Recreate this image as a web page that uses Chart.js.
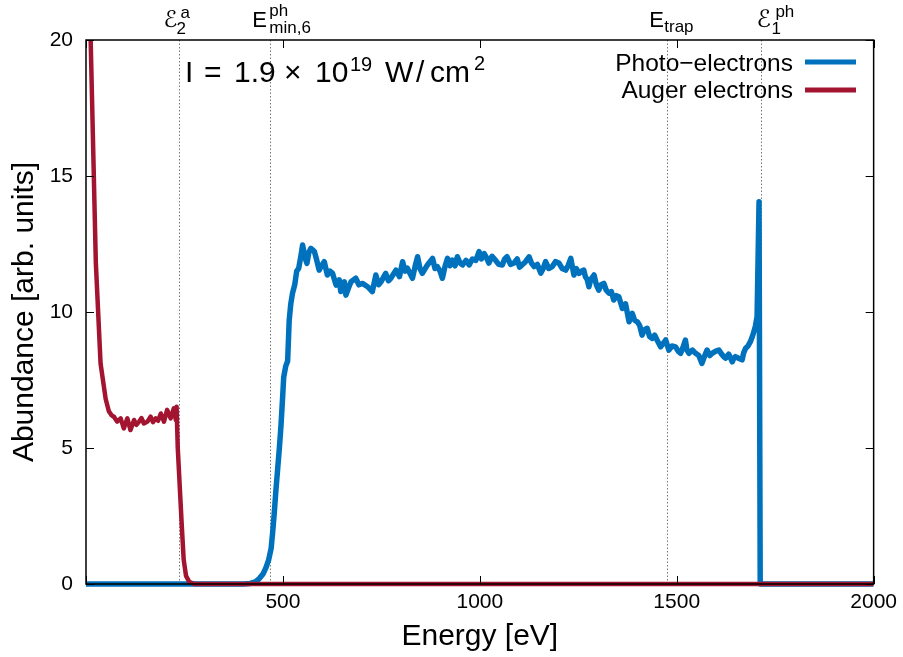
<!DOCTYPE html>
<html>
<head>
<meta charset="utf-8">
<script src="https://cdn.jsdelivr.net/npm/chart.js@4"></script>
<style>
  html, body { margin: 0; padding: 0; background: #fff; }
  canvas { display: block; }
</style>
</head>
<body>
<canvas id="spectrum" width="903" height="657"></canvas>
<script>
// photo-electron spectrum (eV, arb. units)
const photoEnergy = [
  0, 400, 417, 430, 440, 450, 457, 464, 470, 474, 478, 482, 486.5, 491, 495, 499, 502, 507, 512, 516,
  520, 524.5, 530, 535, 540, 545, 550, 556, 561, 566, 571, 580, 586, 592, 598, 605, 613, 620, 626, 635,
  643, 647, 656, 660, 667, 673, 685, 693, 702, 715, 727, 736, 743, 749, 761, 768, 774, 787, 796, 804,
  810, 816, 829, 836, 842, 848, 854, 867, 880, 886, 892, 899, 905, 912, 918, 924, 930, 937, 943, 950,
  956, 965, 973, 981, 990, 998, 1004, 1011, 1017, 1023, 1031, 1040, 1048, 1057, 1063, 1069, 1078, 1087, 1095, 1101,
  1107, 1116, 1125, 1131, 1138, 1146, 1155, 1161, 1167, 1175, 1184, 1192, 1201, 1209, 1218, 1224, 1231, 1239, 1245, 1252,
  1258, 1264, 1268, 1273, 1277, 1282, 1290, 1296, 1302, 1308, 1315, 1321, 1328, 1334, 1340, 1347, 1353, 1362, 1370, 1379,
  1387, 1393, 1400, 1406, 1412, 1418, 1425, 1431, 1438, 1444, 1450, 1459, 1466, 1472, 1480, 1488, 1497, 1504, 1510, 1516,
  1522, 1526, 1531, 1540, 1548, 1556, 1564, 1570, 1577, 1584, 1590, 1598, 1607, 1614, 1620, 1624, 1632, 1641, 1645, 1649,
  1657, 1666, 1670, 1675, 1681, 1687, 1692, 1696, 1700, 1704, 1709, 1712, 2000
];
const photoAbundance = [
  0, 0, 0.02, 0.08, 0.2, 0.38, 0.6, 0.9, 1.3, 1.9, 2.6, 3.4, 4.2, 5.0, 5.8, 6.8, 7.6, 8.0, 8.2, 9.7,
  10.3, 10.7, 11.0, 11.5, 11.6, 12.0, 12.46, 12.0, 11.79, 12.2, 12.34, 12.22, 11.9, 11.54, 11.7, 11.85, 11.36, 11.5, 11.42, 10.99,
  11.18, 10.75, 11.11, 10.62, 10.9, 11.11, 11.24, 11.0, 11.05, 10.93, 10.75, 11.36, 11.0, 11.11, 11.42, 11.15, 11.24, 11.54, 11.3, 11.85,
  11.5, 11.61, 11.24, 11.7, 12.03, 11.6, 11.42, 11.73, 11.97, 11.6, 11.67, 11.5, 11.24, 11.7, 11.97, 11.7, 11.91, 11.7, 12.03, 11.8,
  11.73, 11.9, 11.73, 11.95, 11.9, 12.22, 11.95, 12.15, 12.0, 11.8, 12.05, 11.9, 11.75, 11.73, 11.95, 12.03, 11.75, 11.8, 11.95, 11.65,
  11.73, 11.85, 12.03, 11.8, 11.67, 11.75, 11.43, 11.6, 11.85, 11.6, 11.67, 11.85, 11.8, 11.6, 11.54, 11.7, 11.97, 11.36, 11.6, 11.42,
  11.5, 11.54, 11.3, 11.18, 10.93, 11.2, 11.36, 11.0, 10.8, 11.0, 11.05, 10.8, 10.69, 10.75, 10.44, 10.6, 10.56, 10.13, 10.3, 9.64,
  9.95, 9.7, 9.64, 9.5, 9.15, 9.35, 9.4, 9.1, 9.03, 9.15, 8.97, 8.72, 8.85, 8.97, 8.6, 8.75, 8.72, 8.55, 8.48, 8.7,
  8.97, 8.6, 8.48, 8.6, 8.48, 8.4, 8.11, 8.35, 8.6, 8.4, 8.48, 8.55, 8.6, 8.45, 8.35, 8.3, 8.45, 8.17, 8.3, 8.36,
  8.3, 8.24, 8.5, 8.67, 8.75, 8.91, 9.1, 9.28, 9.5, 9.83, 14.05, 0, 0
];

// Auger electrons
const augerEnergy = [
  0, 5, 12, 25, 37, 50, 58, 65, 71, 79, 88, 96, 105, 113, 122, 128, 135, 141, 147, 156,
  164, 170, 177, 183, 190, 198, 206, 215, 223, 228, 230, 233, 238, 243, 248, 254, 262, 275, 2000
];
const augerAbundance = [
  26, 23, 19.9, 11.8, 8.1, 6.8, 6.35, 6.2, 6.15, 5.97, 6.09, 5.72, 6.09, 5.66, 6.03, 5.85, 5.97, 6.1, 5.9, 5.97,
  6.15, 5.95, 6.09, 6.0, 6.27, 5.97, 6.4, 6.09, 6.46, 6.03, 6.52, 5.0, 3.6, 2.2, 0.9, 0.3, 0.08, 0, 0
];

// characteristic energies marked with dotted lines
const markerEnergy = [235, 468, 1476, 1715];
const markerName = ['E2a', 'Emin6', 'Etrap', 'E1ph'];

const xTicks = [0, 500, 1000, 1500, 2000];
const yTicks = [0, 5, 10, 15, 20];

const BLUE = '#0072bd';
const RED = '#a2142f';
const FONT = "'Liberation Sans', Arial, sans-serif";

function toPoints(xs, ys) {
  return xs.map((x, i) => ({ x: x, y: ys[i] }));
}

function drawText(ctx, text, x, y, size, family) {
  ctx.font = `${size}px ${family || FONT}`;
  ctx.fillText(text, x, y);
}

// label pieces per marker: [text, dx from line, baseline y, size]
const markerLabelParts = {
  E2a: [['\u2130', -15, 27, 23], ['2', -2, 34, 17], ['a', 2, 18, 17]],
  Emin6: [['E', -18, 27, 22], ['ph', -1, 16, 17], ['min,6', -1, 33, 17]],
  Etrap: [['E', -18, 27, 22], ['trap', -3, 32, 17]],
  E1ph: [['\u2130', -5, 27, 24], ['1', 10, 34, 17], ['ph', 14, 17, 17]]
};

const decor = {
  id: 'decor',
  beforeDatasetsDraw(chart) {
    const { ctx, chartArea: a, scales: { x } } = chart;
    ctx.save();
    ctx.strokeStyle = '#777';
    ctx.lineWidth = 1;
    ctx.setLineDash([1.5, 2]);
    markerEnergy.forEach((e) => {
      const px = Math.round(x.getPixelForValue(e)) + 0.5;
      ctx.beginPath();
      ctx.moveTo(px, a.top);
      ctx.lineTo(px, a.bottom);
      ctx.stroke();
    });
    ctx.restore();
  },
  afterDatasetsDraw(chart) {
    const { ctx, chartArea: a, scales: { x, y } } = chart;
    ctx.save();

    // frame + inward ticks
    ctx.strokeStyle = '#000';
    ctx.lineWidth = 1.5;
    ctx.strokeRect(a.left, a.top, a.right - a.left, a.bottom - a.top);
    ctx.lineWidth = 1;
    ctx.beginPath();
    x.ticks.forEach((t) => {
      const px = Math.round(x.getPixelForValue(t.value)) + 0.5;
      ctx.moveTo(px, a.bottom); ctx.lineTo(px, a.bottom - 8);
      ctx.moveTo(px, a.top); ctx.lineTo(px, a.top + 8);
    });
    y.ticks.forEach((t) => {
      const py = Math.round(y.getPixelForValue(t.value)) + 0.5;
      ctx.moveTo(a.left, py); ctx.lineTo(a.left + 8, py);
      ctx.moveTo(a.right, py); ctx.lineTo(a.right - 8, py);
    });
    ctx.stroke();

    // marker labels above the frame
    ctx.fillStyle = '#000';
    ctx.textBaseline = 'alphabetic';
    ctx.textAlign = 'left';
    markerEnergy.forEach((e, i) => {
      const px = x.getPixelForValue(e);
      markerLabelParts[markerName[i]].forEach(([t, dx, by, s]) => {
        drawText(ctx, t, px + dx, by, s, t === '\u2130' ? "'DejaVu Sans', " + FONT : FONT);
      });
    });

    // intensity annotation
    [['I', 185, 82, 30], ['=', 204, 82, 30], ['1.9', 234, 82, 30], ['\u00d7', 284, 82, 30],
     ['10', 315, 82, 30], ['19', 350, 71, 20], ['W', 385, 82, 30], ['/', 416, 82, 30],
     ['cm', 430, 82, 30], ['2', 474, 70, 20]].forEach(([t, px, by, s]) => drawText(ctx, t, px, by, s));

    // legend
    ctx.textAlign = 'right';
    drawText(ctx, 'Photo\u2212electrons', 793, 71, 24.5);
    drawText(ctx, 'Auger electrons', 793, 98, 24.5);
    ctx.lineWidth = 5;
    ctx.strokeStyle = BLUE;
    ctx.beginPath(); ctx.moveTo(805, 62); ctx.lineTo(856, 62); ctx.stroke();
    ctx.strokeStyle = RED;
    ctx.beginPath(); ctx.moveTo(805, 90); ctx.lineTo(856, 90); ctx.stroke();

    ctx.restore();
  }
};

new Chart(document.getElementById('spectrum'), {
  type: 'line',
  data: {
    datasets: [
      {
        label: 'Photo\u2212electrons',
        data: toPoints(photoEnergy, photoAbundance),
        borderColor: BLUE,
        borderWidth: 5.5,
        order: 1
      },
      {
        label: 'Auger electrons',
        data: toPoints(augerEnergy, augerAbundance),
        borderColor: RED,
        borderWidth: 4.5,
        order: 0
      }
    ]
  },
  options: {
    responsive: false,
    animation: false,
    parsing: false,
    layout: { padding: { top: 40, right: 28, left: 0, bottom: 0 } },
    elements: {
      point: { radius: 0 },
      line: { tension: 0, borderJoinStyle: 'round', borderCapStyle: 'butt', fill: false }
    },
    datasets: { line: { clip: { left: 0, top: 0, right: 0, bottom: 4 } } },
    plugins: { legend: { display: false }, tooltip: { enabled: false } },
    scales: {
      x: {
        type: 'linear',
        min: xTicks[0],
        max: xTicks[xTicks.length - 1],
        afterBuildTicks: (s) => { s.ticks = xTicks.map((v) => ({ value: v })); },
        afterFit: (s) => { s.height = 73; },
        grid: { display: false, drawTicks: false },
        border: { display: false },
        ticks: {
          color: '#000',
          font: { family: FONT, size: 21 },
          padding: 6,
          maxRotation: 0,
          callback: (v) => (v === 0 ? '' : String(v))
        },
        title: {
          display: true,
          text: 'Energy [eV]',
          color: '#000',
          font: { family: FONT, size: 30 },
          padding: { top: 0, bottom: 2 }
        }
      },
      y: {
        type: 'linear',
        min: yTicks[0],
        max: yTicks[yTicks.length - 1],
        afterBuildTicks: (s) => { s.ticks = yTicks.map((v) => ({ value: v })); },
        afterFit: (s) => { s.width = 86; },
        grid: { display: false, drawTicks: false },
        border: { display: false },
        ticks: {
          color: '#000',
          font: { family: FONT, size: 21 },
          padding: 13
        },
        title: {
          display: true,
          text: 'Abundance [arb. units]',
          color: '#000',
          font: { family: FONT, size: 30 },
          padding: { top: 7, bottom: 0 }
        }
      }
    }
  },
  plugins: [decor]
});
</script>
</body>
</html>
